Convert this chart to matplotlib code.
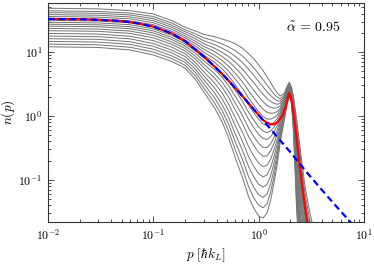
import matplotlib
matplotlib.use("Agg")
import matplotlib.pyplot as plt
from matplotlib.ticker import FixedLocator, FixedFormatter, LogLocator, NullFormatter

plt.rcParams['mathtext.fontset'] = 'cm'
plt.rcParams['font.family'] = ['DejaVu Serif']

# momentum grid shared by the gray family [hbar k_L]
p_grid = [0.01, 0.03, 0.06, 0.1, 0.15, 0.2, 0.25, 0.3, 0.38, 0.45, 0.52, 0.6, 0.7, 0.8, 0.9, 1.0,
          1.1, 1.2, 1.3, 1.4, 1.5, 1.6, 1.75, 1.85, 1.95, 2.05, 2.15, 2.3, 2.5, 2.75, 3.0, 3.4]

gray_01 = [12.1, 11.8, 10.8, 9.0, 7.1, 5.6, 3.76, 2.4, 1.35, 0.80, 0.447, 0.22, 0.110, 0.055, 0.0355, 0.027, 0.0251, 0.030, 0.0479, 0.090, 0.174, 0.38, 0.85, 1.45, 2.00, 1.60, 0.50, 0.030, 0.004, 0.001, 0.0003, 0.0001]
gray_02 = [13.3, 13.0, 11.9, 10.0, 7.9, 6.2, 4.25, 2.77, 1.61, 0.99, 0.571, 0.293, 0.152, 0.079, 0.0518, 0.040, 0.0365, 0.042, 0.0644, 0.114, 0.208, 0.43, 0.91, 1.52, 2.07, 1.66, 0.55, 0.038, 0.0054, 0.0014, 0.00044, 0.00014]
gray_03 = [14.7, 14.3, 13.2, 11.1, 8.7, 6.9, 4.80, 3.21, 1.93, 1.22, 0.730, 0.39, 0.210, 0.113, 0.0755, 0.058, 0.0528, 0.060, 0.0867, 0.145, 0.250, 0.48, 0.97, 1.59, 2.15, 1.73, 0.60, 0.048, 0.0072, 0.0019, 0.0006, 0.0002]
gray_04 = [16.2, 15.8, 14.5, 12.3, 9.7, 7.6, 5.42, 3.71, 2.31, 1.50, 0.933, 0.52, 0.291, 0.162, 0.110, 0.085, 0.0767, 0.084, 0.116, 0.184, 0.299, 0.54, 1.04, 1.67, 2.23, 1.80, 0.66, 0.061, 0.0097, 0.0025, 0.00086, 0.00028]
gray_05 = [17.8, 17.4, 16.1, 13.6, 10.7, 8.5, 6.11, 4.29, 2.76, 1.85, 1.19, 0.70, 0.403, 0.233, 0.161, 0.124, 0.111, 0.119, 0.157, 0.233, 0.358, 0.61, 1.11, 1.75, 2.32, 1.87, 0.73, 0.077, 0.013, 0.0034, 0.0012, 0.0004]
gray_06 = [19.6, 19.1, 17.7, 15.1, 11.9, 9.4, 6.90, 4.95, 3.30, 2.28, 1.52, 0.93, 0.558, 0.334, 0.234, 0.182, 0.161, 0.168, 0.211, 0.296, 0.430, 0.69, 1.19, 1.84, 2.40, 1.95, 0.80, 0.097, 0.0175, 0.0046, 0.0017, 0.00056]
gray_07 = [21.6, 21.1, 19.6, 16.7, 13.2, 10.4, 7.80, 5.73, 3.95, 2.81, 1.95, 1.24, 0.773, 0.479, 0.342, 0.267, 0.234, 0.237, 0.284, 0.375, 0.514, 0.77, 1.28, 1.92, 2.49, 2.02, 0.88, 0.122, 0.0234, 0.0063, 0.0023, 0.0008]
gray_08 = [23.5, 22.9, 21.3, 18.3, 14.4, 11.4, 8.65, 6.49, 4.60, 3.37, 2.40, 1.59, 1.02, 0.652, 0.473, 0.370, 0.322, 0.318, 0.366, 0.460, 0.601, 0.85, 1.36, 2.00, 2.57, 2.09, 0.95, 0.149, 0.030, 0.0082, 0.0031, 0.0011]
gray_09 = [25.5, 24.9, 23.2, 19.9, 15.7, 12.4, 9.61, 7.33, 5.36, 4.03, 2.96, 2.03, 1.35, 0.889, 0.653, 0.513, 0.443, 0.427, 0.472, 0.565, 0.702, 0.94, 1.44, 2.09, 2.65, 2.16, 1.03, 0.182, 0.039, 0.0107, 0.0041, 0.0014]
gray_10 = [27.3, 26.7, 24.9, 21.5, 16.9, 13.4, 10.5, 8.13, 6.10, 4.69, 3.53, 2.49, 1.71, 1.15, 0.855, 0.673, 0.578, 0.546, 0.583, 0.668, 0.798, 1.03, 1.51, 2.16, 2.72, 2.22, 1.10, 0.216, 0.048, 0.0133, 0.0052, 0.0018]
gray_11 = [29.3, 28.6, 26.8, 23.1, 18.2, 14.4, 11.4, 9.02, 6.92, 5.45, 4.21, 3.06, 2.15, 1.49, 1.12, 0.885, 0.753, 0.698, 0.721, 0.792, 0.908, 1.12, 1.58, 2.23, 2.79, 2.29, 1.17, 0.255, 0.059, 0.0165, 0.0065, 0.0024]
gray_12 = [31.4, 30.6, 28.7, 24.9, 19.6, 15.5, 12.5, 10.0, 7.87, 6.32, 5.01, 3.77, 2.72, 1.92, 1.47, 1.16, 0.984, 0.893, 0.891, 0.940, 1.03, 1.22, 1.66, 2.31, 2.87, 2.35, 1.26, 0.301, 0.073, 0.0206, 0.0083, 0.003]
gray_13 = [33.6, 32.8, 30.8, 26.8, 21.1, 16.7, 13.6, 11.1, 8.94, 7.35, 5.97, 4.62, 3.43, 2.49, 1.92, 1.52, 1.28, 1.14, 1.10, 1.11, 1.17, 1.32, 1.75, 2.39, 2.94, 2.42, 1.34, 0.356, 0.090, 0.0256, 0.0105, 0.0039]
gray_14 = [36.0, 35.2, 33.1, 28.8, 22.7, 17.9, 14.8, 12.3, 10.2, 8.53, 7.11, 5.69, 4.32, 3.22, 2.52, 2.00, 1.67, 1.46, 1.36, 1.32, 1.34, 1.44, 1.83, 2.47, 3.02, 2.49, 1.44, 0.421, 0.111, 0.0318, 0.0133, 0.005]
gray_15 = [38.6, 37.7, 35.5, 31.0, 24.5, 19.3, 16.2, 13.6, 11.5, 9.91, 8.48, 6.98, 5.45, 4.17, 3.30, 2.63, 2.18, 1.87, 1.68, 1.57, 1.52, 1.57, 1.92, 2.56, 3.10, 2.56, 1.53, 0.498, 0.137, 0.0397, 0.0169, 0.0064]
gray_16 = [41.4, 40.4, 38.1, 33.4, 26.3, 20.8, 17.7, 15.1, 13.1, 11.5, 10.1, 8.57, 6.88, 5.40, 4.32, 3.46, 2.85, 2.39, 2.08, 1.86, 1.73, 1.70, 2.02, 2.65, 3.18, 2.63, 1.64, 0.588, 0.170, 0.0494, 0.0214, 0.0081]
gray_17 = [44.3, 43.2, 40.8, 36.0, 28.4, 22.4, 19.3, 16.8, 14.9, 13.4, 12.0, 10.5, 8.68, 6.98, 5.65, 4.54, 3.71, 3.05, 2.57, 2.20, 1.97, 1.85, 2.12, 2.74, 3.27, 2.71, 1.75, 0.695, 0.210, 0.0615, 0.0271, 0.0104]
gray_18 = [48.5, 47.5, 44.5, 39.5, 31.0, 24.5, 21.4, 19.0, 17.4, 16.0, 14.9, 13.5, 11.5, 9.5, 7.82, 6.3, 5.11, 4.1, 3.31, 2.7, 2.30, 2.05, 2.25, 2.85, 3.37, 2.80, 1.90, 0.85, 0.27, 0.080, 0.036, 0.014]

gray_curves = [gray_01, gray_02, gray_03, gray_04, gray_05, gray_06, gray_07, gray_08, gray_09,
               gray_10, gray_11, gray_12, gray_13, gray_14, gray_15, gray_16, gray_17, gray_18]

# highlighted curve (red) and fit (blue dashed)
p_red = [0.01, 0.02, 0.03, 0.05, 0.07, 0.1, 0.15, 0.2, 0.3, 0.4, 0.5, 0.7, 1.0, 1.1, 1.2, 1.3,
         1.4, 1.5, 1.6, 1.7, 1.8, 1.87, 1.94, 2.0, 2.1, 2.2, 2.3, 2.45, 2.6, 2.75, 2.9, 3.0]
n_red = [33.0, 32.6, 32.0, 30.5, 28.3, 25.0, 19.5, 14.8, 8.6, 5.5, 3.8, 2.05, 1.03, 0.86, 0.78, 0.74,
         0.74, 0.79, 0.90, 1.05, 1.35, 1.8, 2.28, 2.1, 1.4, 0.78, 0.42, 0.17, 0.075, 0.038, 0.02, 0.015]

p_blue = [0.01, 0.02, 0.03, 0.05, 0.07, 0.1, 0.15, 0.2, 0.3, 0.4, 0.5, 0.7, 1.0, 1.5, 2.0, 3.0, 5.0, 8.0, 10.0]
n_blue = [33.0, 32.6, 32.0, 30.5, 28.3, 25.0, 19.5, 14.8, 8.6, 5.5, 3.8, 2.05, 1.03, 0.47, 0.27, 0.119, 0.045, 0.019, 0.012]

x_ticks = [0.01, 0.1, 1.0, 10.0]
x_tick_labels = [r'$10^{-2}$', r'$10^{-1}$', r'$10^{0}$', r'$10^{1}$']
y_ticks = [0.1, 1.0, 10.0]
y_tick_labels = [r'$10^{-1}$', r'$10^{0}$', r'$10^{1}$']
annotation = r'$\tilde{\alpha}\, =\, 0.95$'

fig = plt.figure(figsize=(3.74, 2.66), dpi=100)
ax = fig.add_axes([0.1283, 0.1654, 0.845, 0.824])

for curve in gray_curves:
    ax.plot(p_grid, curve, color='#767676', lw=0.72, solid_joinstyle='round')

ax.plot(p_red, n_red, color='#ff0000', lw=1.6, zorder=3)
ax.plot(p_blue, n_blue, color='#0000ff', lw=1.6, ls=(0, (3.0, 1.8)), zorder=4)

ax.set_xscale('log')
ax.set_yscale('log')
ax.set_xlim(0.01, 10)
ax.set_ylim(0.0218, 59)

ax.xaxis.set_major_locator(FixedLocator(x_ticks))
ax.xaxis.set_major_formatter(FixedFormatter(x_tick_labels))
ax.yaxis.set_major_locator(FixedLocator(y_ticks))
ax.yaxis.set_major_formatter(FixedFormatter(y_tick_labels))
ax.xaxis.set_minor_locator(LogLocator(base=10, subs=range(2, 10), numticks=20))
ax.yaxis.set_minor_locator(LogLocator(base=10, subs=range(2, 10), numticks=20))
ax.xaxis.set_minor_formatter(NullFormatter())
ax.yaxis.set_minor_formatter(NullFormatter())

ax.tick_params(which='both', direction='in', top=True, right=True, width=0.6, color='#333333')
ax.tick_params(which='major', length=4, labelsize=8.5, pad=4)
ax.tick_params(which='minor', length=2)
for s in ax.spines.values():
    s.set_linewidth(0.8)
    s.set_color('#333333')

ax.set_xlabel(r'$p\ [\hbar k_L]$', fontsize=9.5, labelpad=3)
ax.set_ylabel(r'$n(p)$', fontsize=9.5, labelpad=1)
ax.text(0.84, 0.885, annotation, transform=ax.transAxes, ha='center', va='center', fontsize=10)

fig.savefig('out.png', dpi=100)
